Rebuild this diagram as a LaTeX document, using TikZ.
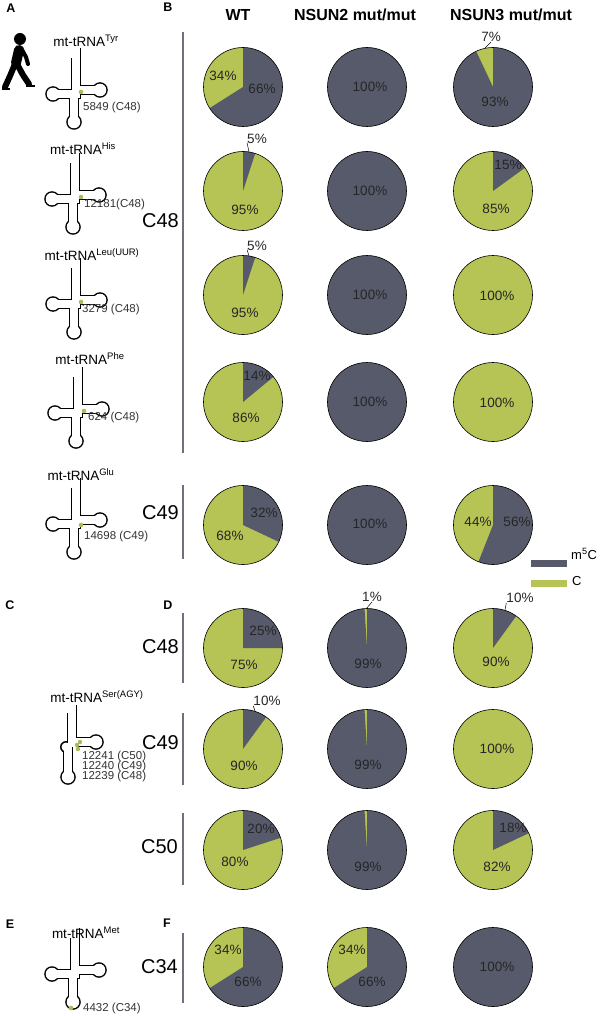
\documentclass[tikz,border=0pt]{standalone}
\usepackage{fontspec}
\setmainfont{Liberation Sans}
\definecolor{mc}{HTML}{565A6B}
\definecolor{cc}{HTML}{B5C454}
\definecolor{barc}{HTML}{6E717D}
\definecolor{dotc}{HTML}{A9BC5A}
\newcommand\piechart[3]{\begin{scope}[shift={(#1,#2)},yscale=-1]
 \fill[cc] (0,0) circle (39.5);
 \ifnum#3>0 \fill[mc] (0,0) -- (90:39.5) arc[start angle=90,end angle={90-3.6*#3},radius=39.5] -- cycle;\fi
 \draw[line width=0.6pt] (0,0) circle (39.5);
\end{scope}}
\newcommand\trna[2]{\begin{scope}[shift={(#1,#2)}]
 \draw[line width=10pt] (0,-46)--(0,-4)--(24,-4) (0,-4)--(0,0)--(-23,0) (-2,0)--(-2,28);
 \fill (24,-4) circle (7.8) (-23,0) circle (7.8) (-2,28) circle (7.8);
 \draw[white,line width=7.2pt] (0,-47)--(0,-4)--(24,-4) (0,-4)--(0,0)--(-23,0) (-2,0)--(-2,28);
 \fill[white] (24,-4) circle (6.3) (-23,0) circle (6.3) (-2,28) circle (6.3);
 \fill[white] (-5.5,-47) rectangle (-3.5,-36);
\end{scope}}
\tikzset{
 pl/.style={font=\fontsize{13.5}{13.5}\selectfont,text=black!85,inner sep=0pt},
 big/.style={font=\fontsize{20}{20}\selectfont,anchor=east,inner sep=0pt},
 hd/.style={font=\fontsize{16}{16}\selectfont\bfseries,inner sep=0pt},
 pan/.style={font=\fontsize{12.5}{12.5}\selectfont\bfseries,inner sep=0pt},
 ti/.style={font=\fontsize{13.5}{13.5}\selectfont,inner sep=0pt},
 num/.style={font=\fontsize{11.5}{11.5}\selectfont,text=black!80,anchor=west,inner sep=0pt},
 barline/.style={barc,line width=2pt},
 lead/.style={line width=0.5pt},
 gdot/.style={fill=dotc}
}
\begin{document}
\begin{tikzpicture}[x=1pt,y=-1pt]
\useasboundingbox (0,0) rectangle (602,1016);
\node[pan] (pA) at (11,8) {A};
\node[pan] (pB) at (168,7) {B};
\node[pan] (pC) at (10,605) {C};
\node[pan] (pD) at (168,605) {D};
\node[pan] (pE) at (10,924) {E};
\node[pan] (pF) at (167,923) {F};
\node[hd] (h1) at (238,15) {WT};
\node[hd] (h2) at (355,15) {NSUN2 mut/mut};
\node[hd] (h3) at (511,15) {NSUN3 mut/mut};
\fill (20,39) circle (6);
\draw[line width=10pt,line cap=round] (19,50)--(16,63);
\draw[line width=6pt,line cap=round] (15,64)--(10,76)--(5,87);
\draw[line width=6pt,line cap=round] (17,64)--(23,75)--(29,84);
\draw[line width=2.5pt] (2,89)--(10,89) (26,86)--(35,86);
\draw[line width=4pt,line cap=round] (21,48)--(26,57)--(28,64);
\trna{76}{94}
\node[ti] (t1) at (86,41) {mt-tRNA\textsuperscript{Tyr}};
\node[num] (n1) at (83,108) {5849 (C48)};
\fill[gdot] (81,92) circle (2.3);
\trna{75}{199}
\node[ti] (t2) at (83,149) {mt-tRNA\textsuperscript{His}};
\node[num] (n2) at (84,205) {12181(C48)};
\fill[gdot] (81,197) circle (2.3);
\trna{76}{304}
\node[ti] (t3) at (92,255) {mt-tRNA\textsuperscript{Leu(UUR)}};
\node[num] (n3) at (82,310) {3279 (C48)};
\fill[gdot] (81,302) circle (2.3);
\trna{78}{413}
\node[ti] (t4) at (90,359) {mt-tRNA\textsuperscript{Phe}};
\node[num] (n4) at (88,418) {624 (C48)};
\fill[gdot] (84,411) circle (2.3);
\trna{76}{524}
\node[ti] (t5) at (81,475) {mt-tRNA\textsuperscript{Glu}};
\node[num] (n5) at (84,537) {14698 (C49)};
\fill[gdot] (81,525) circle (2.3);
\begin{scope}[shift={(72,745)}]
 \draw[line width=10pt] (0,-40)--(0,-3)--(24,-3) (0,-3)--(0,2) (-4,2)--(-4,30);
 \fill (24,-3) circle (7.8) (-4,32) circle (7.8) (-6,2) circle (6);
 \draw[white,line width=7.2pt] (0,-41)--(0,-3)--(24,-3) (0,-3)--(0,2) (-4,2)--(-4,30);
 \fill[white] (24,-3) circle (6.3) (-4,32) circle (6.3) (-6,2) circle (4.5);
 \fill[white] (-5.5,-41) rectangle (-3.5,-32);
\end{scope}
\node[ti] (t6) at (97,697) {mt-tRNA\textsuperscript{Ser(AGY)}};
\fill[gdot] (77,745) circle (2.2) (80,742) circle (2.2) (78,749) circle (2.2);
\node[num] (n6a) at (82,757) {12241 (C50)};
\node[num] (n6b) at (82,767) {12240 (C49)};
\node[num] (n6c) at (82,777) {12239 (C48)};
\trna{75}{974}
\node[ti] (t7) at (86,933) {mt-tRNA\textsuperscript{Met}};
\node[num] (n7) at (83,1009) {4432 (C34)};
\fill[gdot] (71,1008) circle (2.3);
\draw[barline] (183,32)--(183,453);
\node[big] (c1) at (179,221) {C48};
\draw[barline] (183,485)--(183,559);
\node[big] (c2) at (179,513) {C49};
\draw[barline] (183,613)--(183,683);
\node[big] (c3) at (179,647) {C48};
\draw[barline] (183,713)--(183,785);
\node[big] (c4) at (179,743) {C49};
\draw[barline] (183,813)--(183,885);
\node[big] (c5) at (178,847) {C50};
\draw[barline] (183,933)--(183,1003);
\node[big] (c6) at (178,967) {C34};
\fill[mc] (531,560) rectangle (567,567);
\node[font=\fontsize{13}{13}\selectfont,anchor=west,inner sep=0pt] (lm) at (571,554) {m\textsuperscript{5}C};
\fill[cc] (531,580) rectangle (567,587);
\node[font=\fontsize{13}{13}\selectfont,anchor=west,inner sep=0pt] (lc) at (572,581) {C};
\piechart{243}{87}{66}
\node[pl] at (223,76) {34\%}; \node[pl] at (262,89) {66\%};
\piechart{367}{87}{100}
\node[pl] at (370,87) {100\%};
\piechart{493}{87}{93}
\node[pl] (l1) at (491,37) {7\%}; \draw[lead] (l1.south) -- (485,48);
\node[pl] at (495,102) {93\%};
\piechart{243}{191}{5}
\node[pl] (l2) at (257,139) {5\%}; \draw[lead] (l2.200) -- (249,152);
\node[pl] at (245,210) {95\%};
\piechart{367}{191}{100}
\node[pl] at (370,191) {100\%};
\piechart{493}{191}{15}
\node[pl] at (508,165) {15\%}; \node[pl] at (496,209) {85\%};
\piechart{243}{295}{5}
\node[pl] (l3) at (257,246) {5\%}; \draw[lead] (l3.200) -- (249,256);
\node[pl] at (245,313) {95\%};
\piechart{367}{295}{100}
\node[pl] at (370,295) {100\%};
\piechart{493}{295}{0}
\node[pl] at (497,296) {100\%};
\piechart{243}{402}{14}
\node[pl] at (257,376) {14\%}; \node[pl] at (246,418) {86\%};
\piechart{367}{402}{100}
\node[pl] at (370,402) {100\%};
\piechart{493}{402}{0}
\node[pl] at (497,403) {100\%};
\piechart{243}{525}{32}
\node[pl] at (264,513) {32\%}; \node[pl] at (230,536) {68\%};
\piechart{367}{525}{100}
\node[pl] at (370,524) {100\%};
\piechart{493}{525}{56}
\node[pl] at (478,522) {44\%}; \node[pl] at (517,522) {56\%};
\piechart{243}{648}{25}
\node[pl] at (263,631) {25\%}; \node[pl] at (244,665) {75\%};
\piechart{367}{648}{99}
\node[pl] (l4) at (372,597) {1\%}; \draw[lead] (l4.south) -- (366,609);
\node[pl] at (368,664) {99\%};
\piechart{493}{648}{10}
\node[pl] (l5) at (520,598) {10\%}; \draw[lead] (l5.200) -- (505,610);
\node[pl] at (496,662) {90\%};
\piechart{243}{749}{10}
\node[pl] (l6) at (267,701) {10\%}; \draw[lead] (l6.200) -- (255,711);
\node[pl] at (244,766) {90\%};
\piechart{367}{749}{99}
\node[pl] at (368,765) {99\%};
\piechart{493}{749}{0}
\node[pl] at (497,749) {100\%};
\piechart{243}{850}{20}
\node[pl] at (261,829) {20\%}; \node[pl] at (235,862) {80\%};
\piechart{367}{850}{99}
\node[pl] at (368,867) {99\%};
\piechart{493}{850}{18}
\node[pl] at (513,828) {18\%}; \node[pl] at (497,867) {82\%};
\piechart{243}{967}{66}
\node[pl] at (228,950) {34\%}; \node[pl] at (248,982) {66\%};
\piechart{367}{967}{66}
\node[pl] at (352,950) {34\%}; \node[pl] at (372,982) {66\%};
\piechart{493}{967}{100}
\node[pl] at (497,967) {100\%};
\end{tikzpicture}
\end{document}
